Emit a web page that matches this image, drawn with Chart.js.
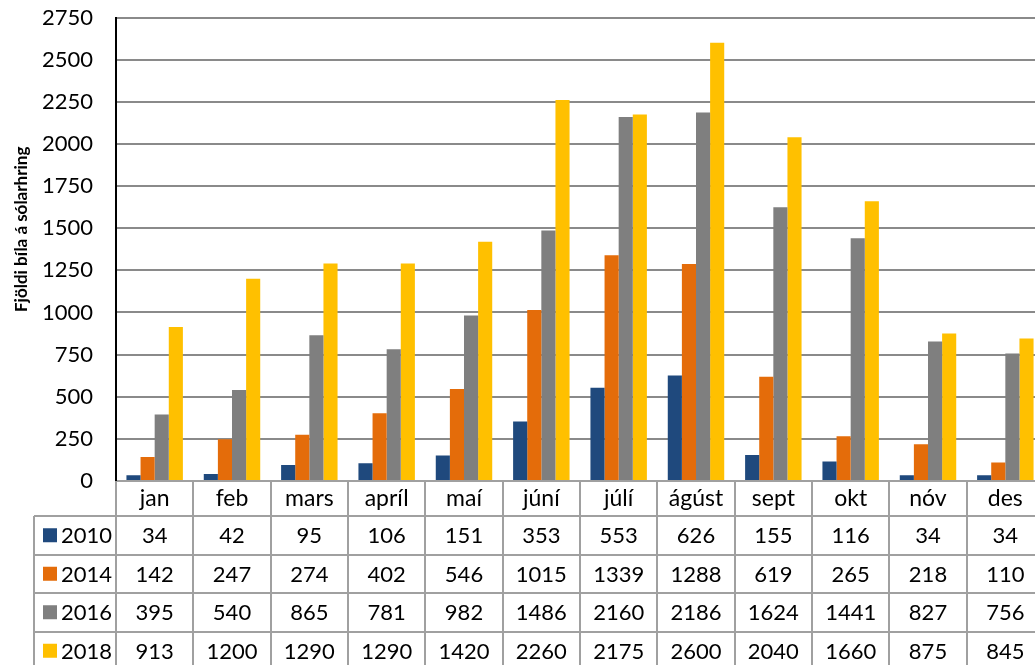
<!DOCTYPE html>
<html>
<head>
<meta charset="utf-8">
<script src="https://cdn.jsdelivr.net/npm/chart.js@4.4.0/dist/chart.umd.min.js"></script>
<style>
  html, body { margin: 0; padding: 0; background: #fff; overflow: hidden; width: 1035px; height: 665px; }
  #wrap { position: relative; width: 1050px; height: 670px; }
</style>
</head>
<body>
<div id="wrap"><canvas id="c" width="1050" height="670"></canvas></div>
<script>
// Monthly traffic counts (cars per day)
const months = ['jan', 'feb', 'mars', 'apríl', 'maí', 'júní', 'júlí', 'ágúst', 'sept', 'okt', 'nóv', 'des'];
const y2010 = [34, 42, 95, 106, 151, 353, 553, 626, 155, 116, 34, 34];
const y2014 = [142, 247, 274, 402, 546, 1015, 1339, 1288, 619, 265, 218, 110];
const y2016 = [395, 540, 865, 781, 982, 1486, 2160, 2186, 1624, 1441, 827, 756];
const y2018 = [913, 1200, 1290, 1290, 1420, 2260, 2175, 2600, 2040, 1660, 875, 845];
const seriesNames = ['2010', '2014', '2016', '2018'];
const seriesValues = [y2010, y2014, y2016, y2018];
const seriesColors = ['#1f497d', '#e46c0a', '#7f7f7f', '#ffc000'];
const yAxisTitle = 'Fjöldi bíla á sólarhring';
const yMin = 0, yMax = 2750, yStep = 250;

const FONT = 'Lato, "Open Sans", sans-serif';
const NUM_SIZE = 22;      // numbers in the axis and table
const LABEL_SIZE = 23;    // month names
const HEADER_H = 35;      // height of the month row under the plot
const ROW_H = 38.5;       // height of each data-table row
const LEGEND_LEFT = 34;   // left edge of the series-name column
const GRID_TABLE = '#a0a0a0';

// Data table below the plot, built from the datasets and the x scale
const dataTable = {
  id: 'dataTable',
  afterDraw(chart) {
    const ctx = chart.ctx;
    const ca = chart.chartArea;
    const xs = chart.scales.x;
    const n = chart.data.labels.length;
    const colW = (xs.right - xs.left) / n;
    const top = ca.bottom;
    const rowsTop = top + HEADER_H;
    const dsets = chart.data.datasets;
    const bottom = rowsTop + ROW_H * dsets.length;

    ctx.save();
    ctx.strokeStyle = GRID_TABLE;
    ctx.lineWidth = 2;
    ctx.beginPath();
    // column separators
    for (let i = 0; i <= n; i++) {
      const x = Math.round(xs.getPixelForValue(i) - colW / 2);
      ctx.moveTo(x, top);
      ctx.lineTo(x, bottom);
    }
    // row separators
    for (let r = 0; r <= dsets.length; r++) {
      const y = Math.round(rowsTop + r * ROW_H);
      ctx.moveTo(LEGEND_LEFT, y);
      ctx.lineTo(xs.right, y);
    }
    // left edge of the series column
    ctx.moveTo(LEGEND_LEFT, rowsTop);
    ctx.lineTo(LEGEND_LEFT, bottom);
    ctx.stroke();

    ctx.font = NUM_SIZE + 'px ' + FONT;
    ctx.textBaseline = 'middle';
    dsets.forEach((ds, r) => {
      const cy = rowsTop + r * ROW_H + ROW_H / 2;
      // legend key
      ctx.fillStyle = ds.backgroundColor;
      ctx.fillRect(LEGEND_LEFT + 9, cy - 7, 14, 14);
      ctx.fillStyle = '#000';
      ctx.textAlign = 'left';
      ctx.fillText(ds.label, LEGEND_LEFT + 27, cy + 1);
      // values
      ctx.textAlign = 'center';
      ds.data.forEach((v, i) => {
        ctx.fillText(String(v), xs.getPixelForValue(i), cy + 1);
      });
    });
    ctx.restore();
  }
};

// Rotated value-axis title
const yTitle = {
  id: 'yTitle',
  afterDraw(chart) {
    const ctx = chart.ctx;
    const ca = chart.chartArea;
    ctx.save();
    ctx.translate(22, ca.top + (ca.bottom - ca.top) * 0.457);
    ctx.rotate(-Math.PI / 2);
    ctx.font = 'bold 17px ' + FONT;
    ctx.fillStyle = '#000';
    ctx.textAlign = 'center';
    ctx.textBaseline = 'middle';
    ctx.fillText(yAxisTitle, 0, 0);
    ctx.restore();
  }
};

new Chart(document.getElementById('c'), {
  type: 'bar',
  data: {
    labels: months,
    datasets: seriesNames.map((name, i) => ({
      label: name,
      data: seriesValues[i],
      backgroundColor: seriesColors[i],
      borderWidth: 0,
      categoryPercentage: 0.73,
      barPercentage: 1.0
    }))
  },
  options: {
    responsive: false,
    animation: false,
    devicePixelRatio: 1,
    layout: { padding: { left: 0, top: 17.5, right: 6, bottom: ROW_H * 4 } },
    plugins: {
      legend: { display: false },
      tooltip: { enabled: false },
      title: { display: false }
    },
    scales: {
      x: {
        grid: { display: false, drawTicks: false },
        border: { display: true, color: GRID_TABLE, width: 2 },
        ticks: {
          color: '#000',
          font: { family: FONT, size: LABEL_SIZE },
          padding: 4,
          maxRotation: 0,
          autoSkip: false
        },
        afterFit(s) { s.height = HEADER_H; s.paddingLeft = 0; s.paddingRight = 0; }
      },
      y: {
        min: yMin,
        max: yMax,
        grid: { color: '#8a8a8a', lineWidth: 2, drawTicks: false },
        border: { display: true, color: '#000', width: 2 },
        ticks: {
          stepSize: yStep,
          color: '#000',
          font: { family: FONT, size: NUM_SIZE },
          padding: 23,
          callback: (v) => String(v)
        },
        afterFit(s) { s.width = 116; s.paddingTop = 0; s.paddingBottom = 0; }
      }
    }
  },
  plugins: [dataTable, yTitle]
});
</script>
</body>
</html>
